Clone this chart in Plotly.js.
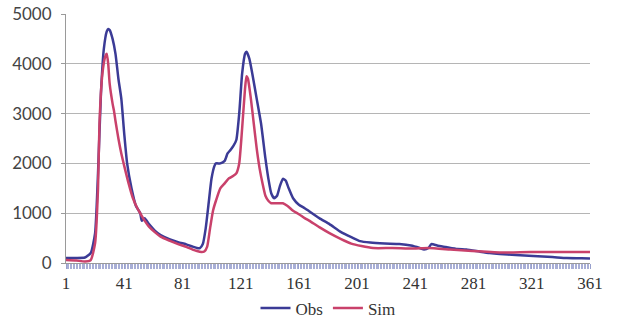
<!DOCTYPE html>
<html><head><meta charset="utf-8">
<script src="https://cdn.plot.ly/plotly-3.0.1.min.js"></script>
<style>html,body{margin:0;padding:0;background:#fff}#c{width:618px;height:322px}</style>
</head><body><div id="c"></div>
<script>
const obsDay = [1,8,14,18,21,23,25,27,29,30,31,33,35,37,39,41,43,46,49,52,53,55,58,62,66,72,78,84,88,91,93,95,97,99,101,103,104,107,110,112,114,116,118,120,122,124,125,127,129,132,135,138,140,142,144,146,148,150,152,154,157,161,165,168,175,182,190,197,203,210,220,230,238,244,247,250,252,256,262,270,276,285,292,299,310,322,335,345,355,361];
const obsVal = [100,100,110,200,600,1800,3400,4300,4650,4700,4680,4500,4200,3700,3300,2600,2000,1500,1150,1000,850,900,780,650,560,480,420,370,330,300,300,380,700,1200,1700,1950,2000,2000,2050,2200,2270,2350,2470,3000,3800,4200,4240,4100,3800,3300,2800,2100,1700,1400,1300,1350,1550,1690,1650,1500,1300,1170,1100,1040,900,780,620,520,440,410,390,380,350,300,270,300,380,350,320,280,270,230,200,180,160,140,120,100,95,90];
const simDay = [1,8,14,18,21,23,24,26,28,29,30,31,33,34,35,37,39,41,44,47,50,52,55,58,62,66,72,78,84,88,91,94,96,98,100,102,104,107,110,113,116,118,120,122,124,125,126,128,130,132,134,136,138,140,142,146,150,153,157,161,165,168,175,182,190,197,204,212,225,240,250,265,280,300,320,340,361];
const simVal = [60,50,30,60,400,1500,2800,3800,4150,4200,4000,3600,3200,3050,2850,2500,2200,1950,1600,1300,1100,1000,850,730,620,530,450,380,320,270,240,220,230,330,700,1050,1250,1500,1600,1700,1750,1800,2000,2700,3500,3750,3700,3300,2800,2300,1900,1600,1350,1250,1200,1200,1200,1150,1050,980,900,850,720,600,480,390,340,300,300,290,300,270,240,210,220,220,220];
const xTickStart = 1, xTickStep = 40;
const yTicks = [0,1000,2000,3000,4000,5000];

const traces = [
  {x: obsDay, y: obsVal, name: 'Obs', mode: 'lines', line: {color: '#3b3b96', width: 2.5, shape: 'spline', smoothing: 0.5}},
  {x: simDay, y: simVal, name: 'Sim', mode: 'lines', line: {color: '#c9416b', width: 2.5, shape: 'spline', smoothing: 0.5}}
];
const serif = {family: '"Liberation Serif", "Times New Roman", serif', size: 17, color: '#333'};
const sans = {family: 'Lato, "Liberation Sans", sans-serif', size: 17, color: '#444'};
const layout = {
  width: 618, height: 322,
  margin: {l: 66, r: 28, t: 14, b: 59, autoexpand: false},
  paper_bgcolor: '#fff', plot_bgcolor: '#fff',
  font: serif,
  showlegend: true,
  legend: {orientation: 'h', x: 0.5, xanchor: 'center', y: -0.11, yanchor: 'top', font: serif, itemwidth: 30, tracegroupgap: 0},
  xaxis: {
    range: [1, 361], tickmode: 'linear', tick0: xTickStart, dtick: xTickStep,
    showgrid: false, zeroline: false, showline: true, linecolor: '#9a9a9a', linewidth: 1,
    ticks: 'outside', ticklen: 5, tickcolor: '#98a0cc', tickwidth: 1,
    minor: {dtick: 1, tick0: 1, ticks: 'outside', ticklen: 5, tickcolor: '#a8aed6', tickwidth: 1, showgrid: false},
    tickfont: serif
  },
  yaxis: {
    range: [0, 5000], tickmode: 'array', tickvals: yTicks, ticktext: yTicks.map(String),
    showgrid: true, gridcolor: '#b5b5b5', gridwidth: 1, zeroline: false,
    showline: true, linecolor: '#9a9a9a', linewidth: 1,
    ticks: 'outside', ticklen: 4, tickcolor: '#9a9a9a', ticklabelstandoff: 6,
    tickfont: sans
  }
};
Plotly.newPlot('c', traces, layout, {displayModeBar: false, staticPlot: true});
</script></body></html>
